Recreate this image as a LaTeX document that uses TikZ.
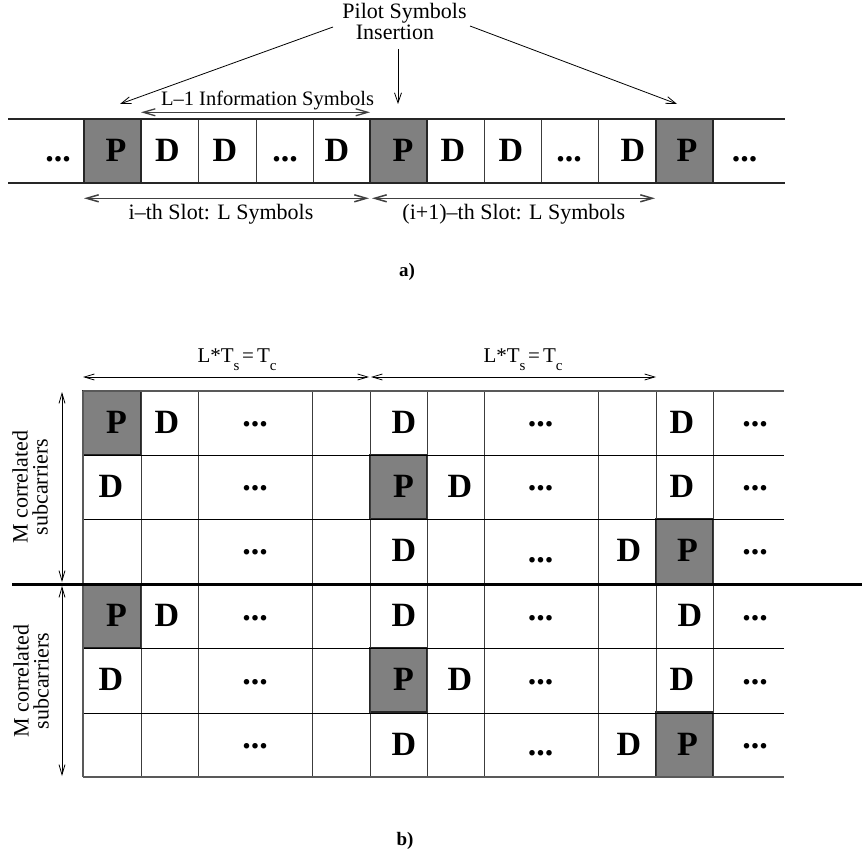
\documentclass[tikz,border=0pt]{standalone}
\usepackage{fontspec}
\setmainfont{Liberation Serif}
\usetikzlibrary{arrows.meta}
\definecolor{pgray}{RGB}{128,128,128}
\definecolor{lgray}{RGB}{60,60,60}
\tikzset{
  sym/.style={font=\fontsize{34}{34}\selectfont\bfseries, inner sep=0pt, anchor=base},
  cdots/.style={font=\fontsize{34}{34}\selectfont\bfseries, inner sep=0pt, anchor=center},
  bdots/.style={font=\fontsize{34}{34}\selectfont\bfseries, inner sep=0pt, anchor=base},
  lbl/.style={font=\fontsize{22}{22}\selectfont, inner sep=0pt, anchor=base},
  captxt/.style={font=\fontsize{19}{19}\selectfont\bfseries, inner sep=0pt, anchor=base},
  pcell/.style={fill=pgray, draw=black!85, line width=1.2pt},
  cellline/.style={draw=lgray, line width=0.9pt},
  rowline/.style={draw=black, line width=1pt},
  border/.style={draw=black!65, line width=1.8pt},
  stripline/.style={draw=black!85, line width=1.3pt},
  sepline/.style={draw=black, line width=3pt},
  ptr/.style={draw=black, line width=0.8pt, -{Straight Barb[length=10pt,width=7pt]}},
  dimthin/.style={draw=black, line width=0.8pt, {Straight Barb[length=10pt,width=6pt]}-{Straight Barb[length=10pt,width=6pt]}},
  dimthick/.style={draw=black!75, line width=1.5pt, {Straight Barb[length=12pt,width=7pt]}-{Straight Barb[length=12pt,width=7pt]}},
}
\newcommand{\subsc}[1]{\raisebox{-0.38em}{\fontsize{15}{15}\selectfont #1}}
\begin{document}
\begin{tikzpicture}[x=1pt,y=-1pt]
\useasboundingbox (0,0) rectangle (862,850);

% ---------------- part a ----------------
\path[pcell] (84,119) rectangle (141,183);
\path[pcell] (370,119) rectangle (427,183);
\path[pcell] (656,119) rectangle (713,183);
\foreach \x in {198,256,313,484,541,598} \draw[cellline] (\x,119) -- (\x,183);
\draw[stripline] (8,119) -- (785,119);
\draw[stripline] (8,183) -- (785,183);

\node[bdots] (ad1) at (58,162) {...};
\node[sym] (aP1) at (116,162) {P};
\node[sym] (aD1) at (167.5,162) {D};
\node[sym] (aD2) at (225,162) {D};
\node[bdots] (ad2) at (285,162) {...};
\node[sym] (aD3) at (337,162) {D};
\node[sym] (aP2) at (403,162) {P};
\node[sym] (aD4) at (453,162) {D};
\node[sym] (aD5) at (511,162) {D};
\node[bdots] (ad3) at (569,162) {...};
\node[sym] (aD6) at (633,162) {D};
\node[sym] (aP3) at (687,162) {P};
\node[bdots] (ad4) at (744.5,162) {...};

\node[lbl] (pilot) at (404.5,18.3) {Pilot Symbols};
\node[lbl] (ins) at (395,40) {Insertion};
\coordinate (pL) at (333,27);
\coordinate (pM) at (398,49);
\coordinate (pR) at (470,26);
\coordinate (tL) at (120,104);
\coordinate (tM) at (398,104);
\coordinate (tR) at (677,104);
\draw[ptr] (pL) -- (tL);
\draw[ptr] (pM) -- (tM);
\draw[ptr] (pR) -- (tR);

\node[lbl, font=\fontsize{20.5}{20.5}\selectfont] (info) at (267.5,105.7) {L–1 Information Symbols};
\coordinate (i1) at (141,112.3);
\coordinate (i2) at (370,112.3);
\draw[dimthick, line width=1.3pt] (i1) -- (i2);

\coordinate (s1a) at (84,198.3);
\coordinate (s1b) at (369,198.3);
\coordinate (s2a) at (372,198.3);
\coordinate (s2b) at (655,198.3);
\draw[dimthick] (s1a) -- (s1b);
\draw[dimthick] (s2a) -- (s2b);
\node[lbl] (slot1) at (221,219.3) {i–th Slot: L Symbols};
\node[lbl] (slot2) at (513.8,219.3) {(i+1)–th Slot: L Symbols};

\node[captxt] (capa) at (407,277) {a)};

% ---------------- part b ----------------
\foreach \yo in {0,193} {
  \path[pcell] (83,391+\yo) rectangle (141,455+\yo);
  \path[pcell] (370,455+\yo) rectangle (427,519+\yo);
  \path[pcell] (656,519+\yo) rectangle (713,584+\yo);
}
\foreach \x in {141,198,312,370,427,484,598,656,713} \draw[cellline] (\x,391) -- (\x,777);
\foreach \y in {455,519,648,713} \draw[rowline] (83,\y) -- (784,\y);
\draw[border] (83,391) -- (784,391);
\draw[border] (83,777) -- (784,777);
\draw[border] (83,391) -- (83,777);
\draw[sepline] (12,584) -- (862,584);

\foreach \b/\yo/\dx in {1/0/682, 2/193.5/690} {
  % row 1
  \node[sym] (P1-\b) at (116.5,433.3+\yo) {P};
  \node[sym] (D12-\b) at (167,433.3+\yo) {D};
  \node[cdots] (d13-\b) at (255,424.3+\yo) {...};
  \node[sym] (D15-\b) at (404,433.3+\yo) {D};
  \node[cdots] (d17-\b) at (540.5,424.3+\yo) {...};
  \node[sym] (D19-\b) at (\dx,433.3+\yo) {D};
  \node[cdots] (d110-\b) at (755,424.3+\yo) {...};
  % row 2
  \node[sym] (D21-\b) at (111,497.3+\yo) {D};
  \node[cdots] (d23-\b) at (255,488.3+\yo) {...};
  \node[sym] (P25-\b) at (403.5,497.3+\yo) {P};
  \node[sym] (D26-\b) at (460,497.3+\yo) {D};
  \node[cdots] (d27-\b) at (540.5,488.3+\yo) {...};
  \node[sym] (D29-\b) at (682,497.3+\yo) {D};
  \node[cdots] (d210-\b) at (755,488.3+\yo) {...};
  % row 3
  \node[cdots] (d33-\b) at (255,552.5+\yo) {...};
  \node[sym] (D35-\b) at (404,561.8+\yo) {D};
  \node[bdots] (d37-\b) at (540.5,562+\yo) {...};
  \node[sym] (D38-\b) at (629,561.8+\yo) {D};
  \node[sym] (P39-\b) at (687.5,561.8+\yo) {P};
  \node[cdots] (d310-\b) at (755,552.5+\yo) {...};
}

\coordinate (h1a) at (83,377);
\coordinate (h1b) at (369,377);
\coordinate (h2a) at (371,377);
\coordinate (h2b) at (656,377);
\draw[dimthin] (h1a) -- (h1b);
\draw[dimthin] (h2a) -- (h2b);
\node[lbl, font=\fontsize{21}{21}\selectfont] (lt1) at (237,362.3) {L*T\subsc{s}\kern0.12em=\kern0.15em T\subsc{c}};
\node[lbl, font=\fontsize{21}{21}\selectfont] (lt2) at (523,362.3) {L*T\subsc{s}\kern0.12em=\kern0.15em T\subsc{c}};

\coordinate (v1a) at (62,392);
\coordinate (v1b) at (62,582);
\coordinate (v2a) at (62,586);
\coordinate (v2b) at (62,776);
\draw[dimthin] (v1a) -- (v1b);
\draw[dimthin] (v2a) -- (v2b);
\node[rotate=90, align=center, inner sep=0pt, font=\fontsize{22}{20}\selectfont] (m1) at (30,487) {M correlated\\subcarriers};
\node[rotate=90, align=center, inner sep=0pt, font=\fontsize{22}{20}\selectfont] (m2) at (31,681) {M correlated\\subcarriers};

\node[captxt] (capb) at (405,845) {b)};
\end{tikzpicture}
\end{document}
